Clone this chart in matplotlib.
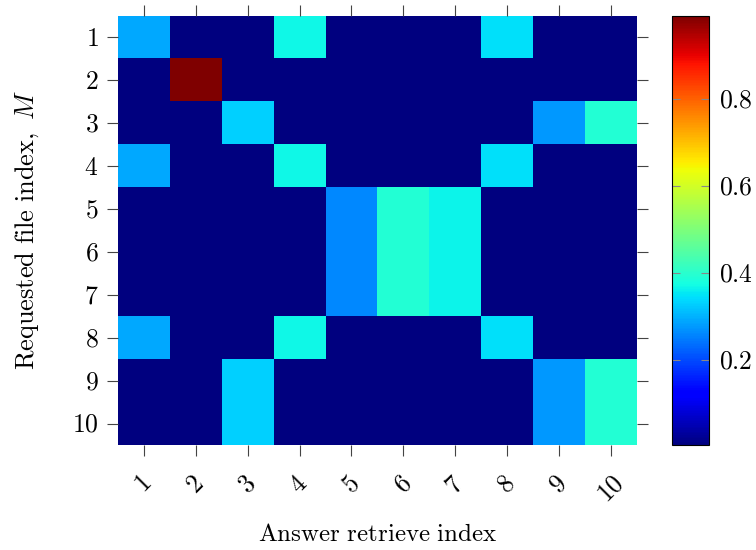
import numpy as np
from matplotlib import pyplot as plt

plt.rcParams['font.family'] = ['Liberation Serif', 'DejaVu Serif']
plt.rcParams['mathtext.fontset'] = 'cm'

lo = 0.005
row_a = [0.29, lo, lo, 0.37, lo, lo, lo, 0.345, lo, lo]
row_b = [lo, 0.99, lo, lo, lo, lo, lo, lo, lo, lo]
row_c = [lo, lo, 0.33, lo, lo, lo, lo, lo, 0.275, 0.39]
row_d = [lo, lo, lo, lo, 0.26, 0.39, 0.365, lo, lo, lo]
rows = [row_a, row_b, row_c, row_a, row_d, row_d, row_d, row_a, row_c, row_c]
labels = ['$%d$' % i for i in range(1, 11)]
cbar_ticks = [0.2, 0.4, 0.6, 0.8]

data = np.array(rows)

fig = plt.figure(figsize=(7.56, 5.5), dpi=100)
ax = fig.add_axes([0.156, 0.191, 0.6865, 0.78])
im = ax.imshow(data, cmap='jet', aspect='auto', interpolation='nearest')

ax.set_xticks(range(10))
ax.set_xticklabels(labels, rotation=45, ha='center', va='top')
ax.set_yticks(range(10))
ax.set_yticklabels(labels)
ax.tick_params(axis='both', which='both', length=8, width=0.8, color='#444444',
               top=True, right=True, labelsize=18.5, pad=6)
ax.tick_params(axis='x', pad=12)
for s in ax.spines.values():
    s.set_visible(False)

ax.set_xlabel(r'$\mathrm{Answer\ retrieve\ index}$', fontsize=18, labelpad=12)
ax.set_ylabel(r'$\mathrm{Requested\ file\ index,}\ M$', fontsize=19, labelpad=22)

cax = fig.add_axes([0.889, 0.191, 0.049, 0.78])
cb = fig.colorbar(im, cax=cax)
cb.set_ticks(cbar_ticks)
cb.set_ticklabels(['$%.1f$' % t for t in cbar_ticks])
cax.tick_params(direction='in', length=6, width=0.8, color='#888888',
                left=True, right=True, labelsize=18.5, pad=7)
cb.outline.set_linewidth(0.8)

fig.savefig('out.png', dpi=100)
